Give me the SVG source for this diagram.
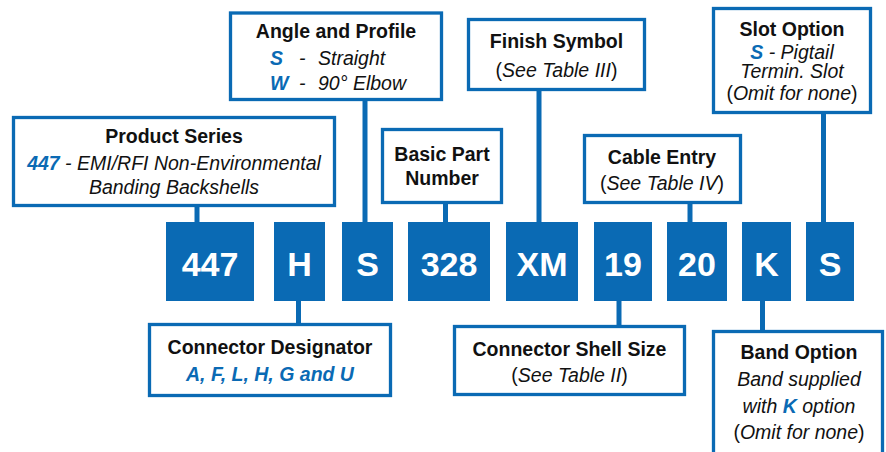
<svg xmlns="http://www.w3.org/2000/svg" width="886" height="452" viewBox="0 0 886 452">
<style>
  .box { fill: #ffffff; stroke: #0a6ab4; stroke-width: 3.3; }
  .code { fill: #0a6ab4; }
  .code-t { font-family: "Liberation Sans", Arial, sans-serif; font-weight: bold; font-size: 34px; fill: #ffffff; text-anchor: middle; }
  .ttl { font-family: "Liberation Sans", Arial, sans-serif; font-weight: bold; font-size: 19.5px; fill: #111111; text-anchor: middle; }
  .it { font-family: "Liberation Sans", Arial, sans-serif; font-style: italic; font-size: 19.5px; fill: #111111; text-anchor: middle; }
  .up { font-style: normal; }
  .hl { font-weight: bold; fill: #0a6ab4; }
  .conn line { stroke: #0a6ab4; stroke-width: 5; }
</style>
<rect width="886" height="452" fill="#ffffff"/>

<g class="conn" id="connectors">
  <line x1="197" y1="206" x2="197" y2="223"/>
  <line x1="365" y1="100" x2="365" y2="223"/>
  <line x1="445.5" y1="203" x2="445.5" y2="223"/>
  <line x1="539" y1="90" x2="539" y2="223"/>
  <line x1="690" y1="203" x2="690" y2="223"/>
  <line x1="823.5" y1="113" x2="823.5" y2="223"/>
  <line x1="298.5" y1="300" x2="298.5" y2="324"/>
  <line x1="619" y1="300" x2="619" y2="326"/>
  <line x1="762.5" y1="300" x2="762.5" y2="331"/>
</g>

<g id="code-447"><rect class="code" x="166" y="222" width="88" height="79"/><text class="code-t" x="210" y="276">447</text></g>
<g id="code-H"><rect class="code" x="274" y="222" width="51" height="79"/><text class="code-t" x="299.5" y="276">H</text></g>
<g id="code-S1"><rect class="code" x="342" y="222" width="51" height="79"/><text class="code-t" x="367.5" y="276">S</text></g>
<g id="code-328"><rect class="code" x="408" y="222" width="82" height="79"/><text class="code-t" x="449" y="276">328</text></g>
<g id="code-XM"><rect class="code" x="506" y="222" width="72" height="79"/><text class="code-t" x="542" y="276">XM</text></g>
<g id="code-19"><rect class="code" x="594" y="222" width="58" height="79"/><text class="code-t" x="623" y="276">19</text></g>
<g id="code-20"><rect class="code" x="667" y="222" width="60" height="79"/><text class="code-t" x="697" y="276">20</text></g>
<g id="code-K"><rect class="code" x="742" y="222" width="49" height="79"/><text class="code-t" x="766.5" y="276">K</text></g>
<g id="code-S2"><rect class="code" x="806" y="222" width="48" height="79"/><text class="code-t" x="830" y="276">S</text></g>

<g id="angle-profile">
  <rect class="box" x="230.5" y="13" width="211" height="86.5"/>
  <text class="ttl" x="336" y="38">Angle and Profile</text>
  <text class="it" y="65" style="text-anchor:start"><tspan class="hl" x="270">S</tspan><tspan x="299">-</tspan><tspan x="318">Straight</tspan></text>
  <text class="it" y="89.5" style="text-anchor:start"><tspan class="hl" x="270">W</tspan><tspan x="299">-</tspan><tspan x="318">90° Elbow</tspan></text>
</g>

<g id="product-series">
  <rect class="box" x="13.5" y="117.5" width="321" height="88"/>
  <text class="ttl" x="174" y="143">Product Series</text>
  <text class="it" x="174" y="170"><tspan class="hl">447</tspan> - EMI/RFI Non-Environmental</text>
  <text class="it" x="174" y="194">Banding Backshells</text>
</g>

<g id="basic-part-number">
  <rect class="box" x="382.5" y="129.5" width="119" height="73"/>
  <text class="ttl" x="442" y="161">Basic Part</text>
  <text class="ttl" x="442" y="184.5">Number</text>
</g>

<g id="finish-symbol">
  <rect class="box" x="468.5" y="19.5" width="176" height="70"/>
  <text class="ttl" x="556.5" y="48">Finish Symbol</text>
  <text class="it" x="556.5" y="77"><tspan class="up">(</tspan>See Table III<tspan class="up">)</tspan></text>
</g>

<g id="slot-option">
  <rect class="box" x="713.5" y="8.5" width="157" height="104"/>
  <text class="ttl" x="792" y="36">Slot Option</text>
  <text class="it" x="792" y="58.5"><tspan class="hl">S</tspan> - Pigtail</text>
  <text class="it" x="792" y="78">Termin. Slot</text>
  <text class="it" x="792" y="100"><tspan class="up">(</tspan>Omit for none<tspan class="up">)</tspan></text>
</g>

<g id="cable-entry">
  <rect class="box" x="584.5" y="135.5" width="156" height="67"/>
  <text class="ttl" x="662" y="163.5">Cable Entry</text>
  <text class="it" x="662" y="190"><tspan class="up">(</tspan>See Table IV<tspan class="up">)</tspan></text>
</g>

<g id="connector-designator">
  <rect class="box" x="149.5" y="324.5" width="241" height="71"/>
  <text class="ttl" x="270" y="353.5">Connector Designator</text>
  <text class="it hl" x="270" y="381">A, F, L, H, G and U</text>
</g>

<g id="connector-shell-size">
  <rect class="box" x="454.5" y="326.5" width="230" height="68"/>
  <text class="ttl" x="569.5" y="356">Connector Shell Size</text>
  <text class="it" x="569.5" y="382"><tspan class="up">(</tspan>See Table II<tspan class="up">)</tspan></text>
</g>

<g id="band-option">
  <rect class="box" x="713.5" y="331.5" width="169" height="140"/>
  <text class="ttl" x="799" y="358.5">Band Option</text>
  <text class="it" x="799" y="386">Band supplied</text>
  <text class="it" x="799" y="412.5">with <tspan class="hl">K</tspan> option</text>
  <text class="it" x="799" y="438.5"><tspan class="up">(</tspan>Omit for none<tspan class="up">)</tspan></text>
</g>
</svg>
